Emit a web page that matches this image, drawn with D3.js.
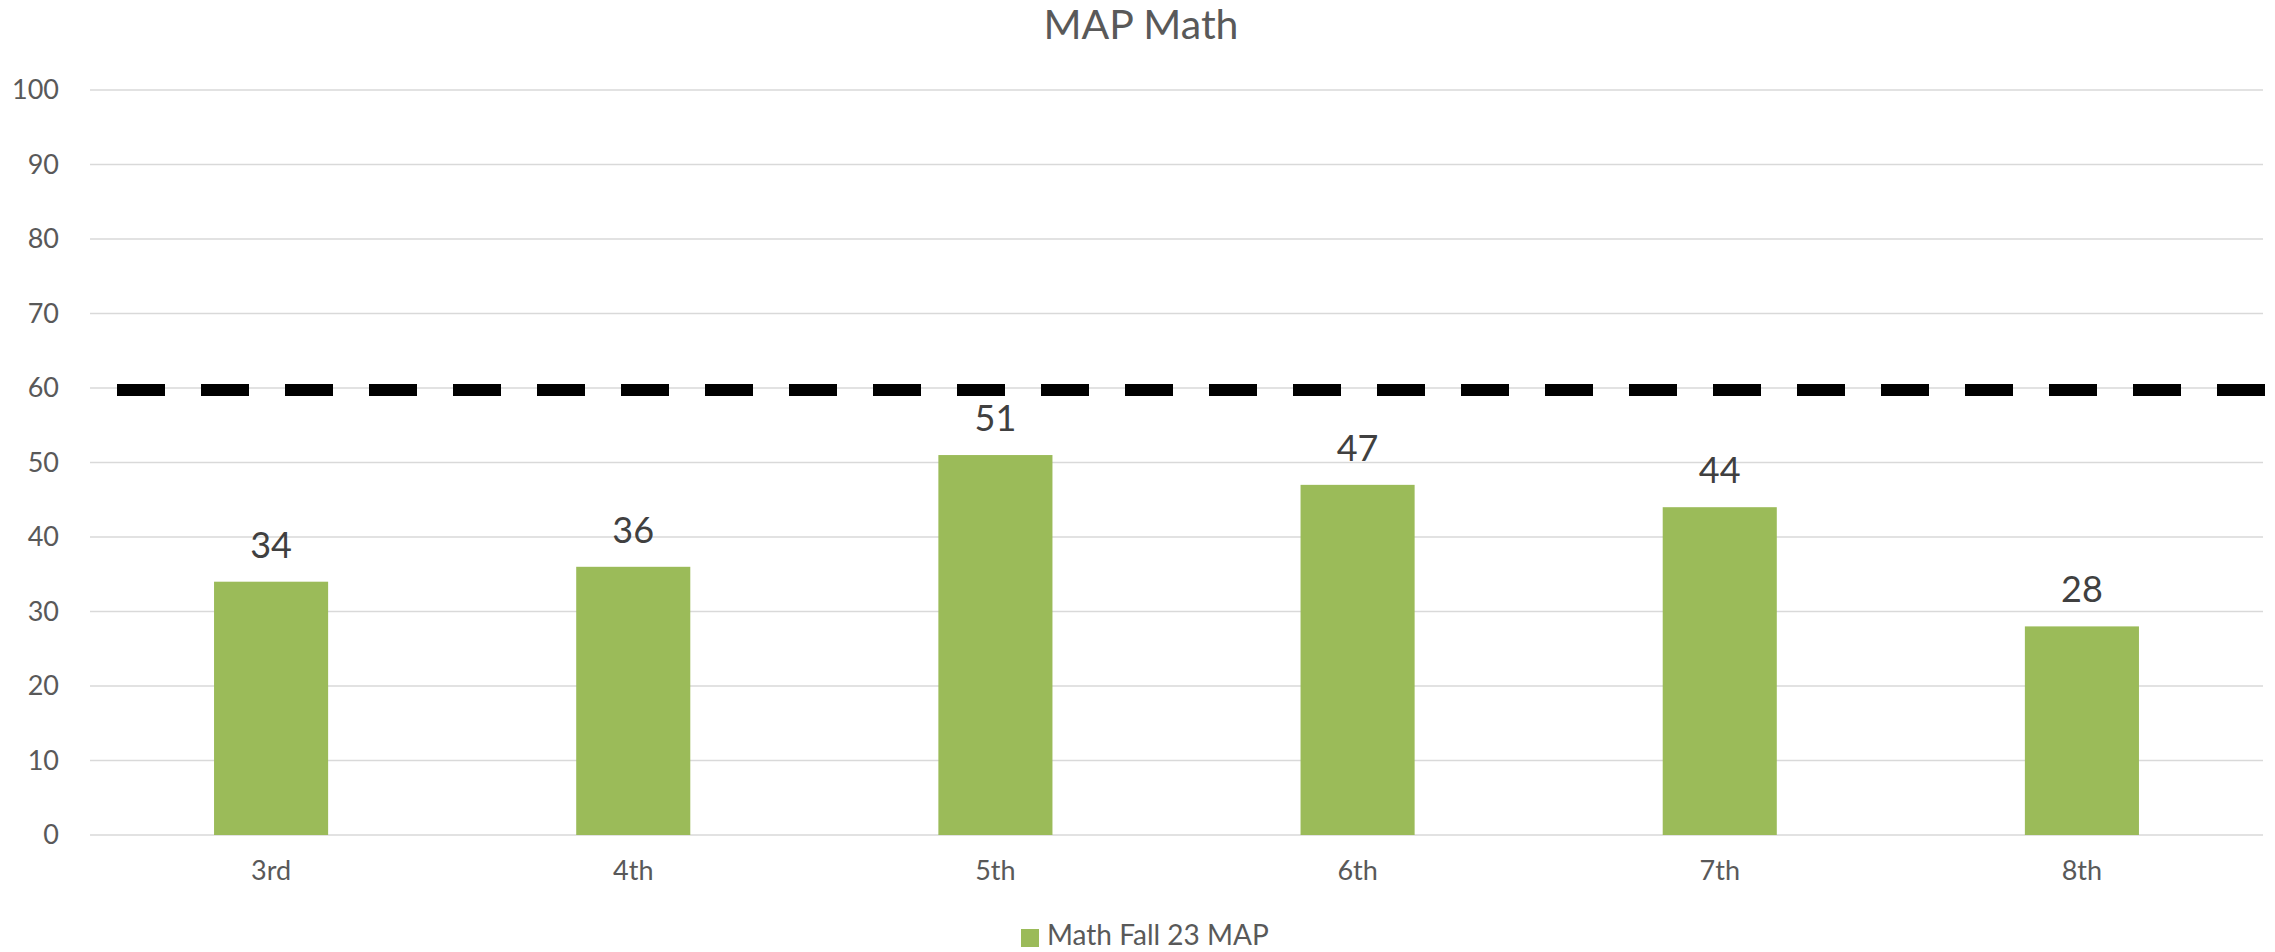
<!DOCTYPE html>
<html><head><meta charset="utf-8">
<script src="https://cdn.jsdelivr.net/npm/d3@7"></script>
<style>html,body{margin:0;padding:0;background:#fff;}svg{display:block;}</style>
</head><body>
<svg id="chart" width="2275" height="952"></svg>
<script>
const categories = ["3rd", "4th", "5th", "6th", "7th", "8th"];
const values = [34, 36, 51, 47, 44, 28];
const seriesName = "Math Fall 23 MAP";
const yTicks = [0, 10, 20, 30, 40, 50, 60, 70, 80, 90, 100];
const targetValue = 60;
const title = "MAP Math";

const plotLeft = 90, plotRight = 2263, plotTop = 90, plotBottom = 835;
const font = "Lato, 'Open Sans', sans-serif";
const svg = d3.select("#chart");

const x = d3.scaleBand().domain(categories).range([plotLeft, plotRight]).padding(0);
const y = d3.scaleLinear().domain([0, 100]).range([plotBottom, plotTop]);
const barW = x.bandwidth() * 0.315;

// gridlines
svg.append("g").selectAll("line").data(yTicks).join("line")
  .attr("x1", plotLeft).attr("x2", plotRight)
  .attr("y1", d => y(d)).attr("y2", d => y(d))
  .attr("stroke", "#d9d9d9").attr("stroke-width", 1.5);

// y axis labels
const yAxis = d3.axisLeft(y).tickValues(yTicks).tickSize(0).tickPadding(31);
const gy = svg.append("g").attr("transform", `translate(${plotLeft},0)`).call(yAxis);
gy.select(".domain").remove();
gy.selectAll("text").attr("font-family", font).attr("font-size", 27).attr("fill", "#595959");

// x axis labels
const xAxis = d3.axisBottom(x).tickSize(0).tickPadding(26);
const gx = svg.append("g").attr("transform", `translate(0,${plotBottom})`).call(xAxis);
gx.select(".domain").remove();
gx.selectAll("text").attr("font-family", font).attr("font-size", 27).attr("fill", "#595959");

// bars
svg.append("g").selectAll("rect").data(values).join("rect")
  .attr("x", (d, i) => x(categories[i]) + x.bandwidth() / 2 - barW / 2)
  .attr("width", barW)
  .attr("y", d => y(d))
  .attr("height", d => y(0) - y(d))
  .attr("fill", "#9bbb59");

// value labels
svg.append("g").selectAll("text").data(values).join("text")
  .attr("x", (d, i) => x(categories[i]) + x.bandwidth() / 2)
  .attr("y", d => y(d) - 24)
  .attr("text-anchor", "middle")
  .attr("font-family", font).attr("font-size", 36).attr("fill", "#404040")
  .text(d => d);

// target dashed line
svg.append("line")
  .attr("x1", plotLeft).attr("x2", plotRight + 2)
  .attr("y1", y(targetValue) + 2).attr("y2", y(targetValue) + 2)
  .attr("stroke", "#000").attr("stroke-width", 12)
  .attr("stroke-dasharray", "48,36").attr("stroke-dashoffset", 57);

// title
svg.append("text").attr("x", 1141).attr("y", 39).attr("text-anchor", "middle")
  .attr("font-family", font).attr("font-size", 41).attr("fill", "#595959").text(title);

// legend
const lg = svg.append("g");
lg.append("rect").attr("x", 1021).attr("y", 929).attr("width", 18).attr("height", 18).attr("fill", "#9bbb59");
lg.append("text").attr("x", 1047).attr("y", 945).attr("font-family", font).attr("font-size", 28)
  .attr("fill", "#595959").text(seriesName);
</script>
</body></html>
